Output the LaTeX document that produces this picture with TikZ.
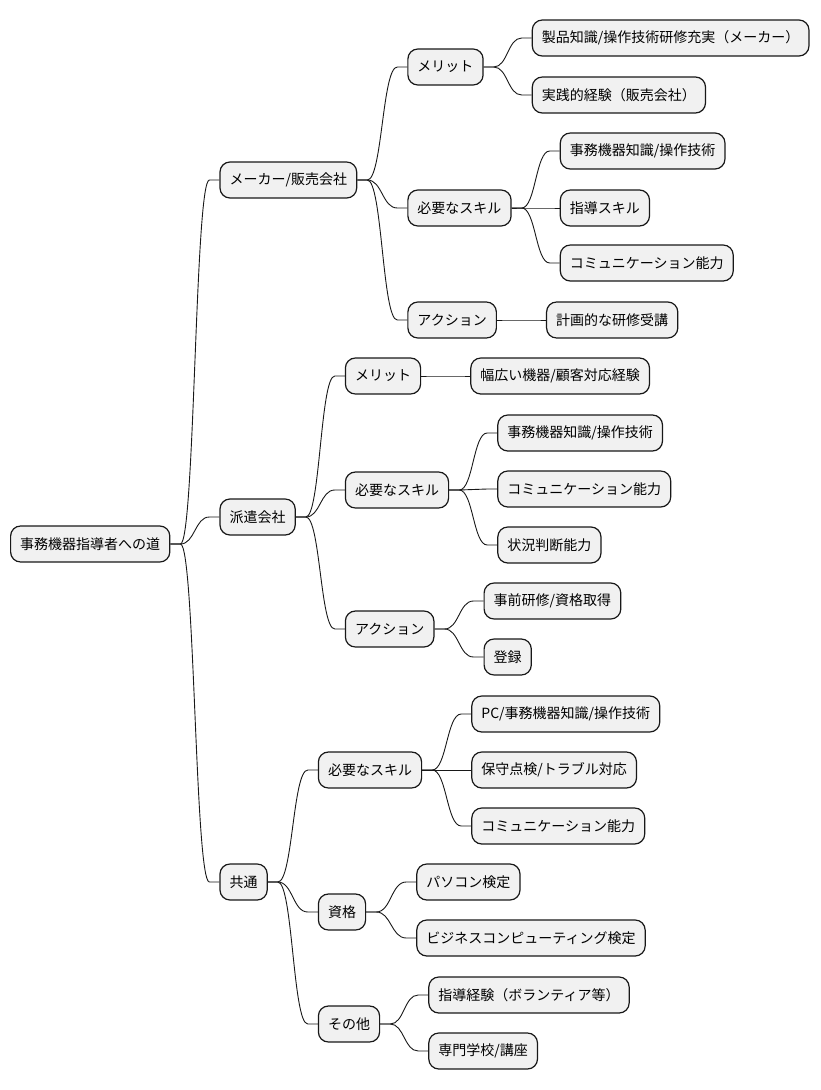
\documentclass[tikz,border=0pt]{standalone}
\usepackage{fontspec}
\setmainfont{Noto Sans CJK JP}
\usetikzlibrary{calc}
\definecolor{boxfill}{HTML}{F1F1F1}
\definecolor{boxline}{HTML}{181818}
\newcommand\mmlink[2]{\draw[link] let \p1=(#1.east), \p2=(#2.west) in (\p1) -- (\x1+10pt,\y1) .. controls (\x1/2+\x2/2,\y1) and (\x1/2+\x2/2,\y2) .. (\x2-10pt,\y2) -- (\p2);}
\begin{document}
\begin{tikzpicture}[x=1pt,y=-1pt,
  box/.style={draw=boxline, line width=1.2pt, fill=boxfill, rounded corners=10pt, anchor=west, minimum height=36pt, inner xsep=9.6pt, inner ysep=0pt, font=\fontsize{14}{16}\selectfont},
  link/.style={draw=boxline, line width=0.9pt}]
\useasboundingbox (0,0) rectangle (820,1090);
% root
\node[box] (root) at (10,544) {事務機器指導者への道};
\path (root.east) ++(49,0) coordinate (c0);
\node[box] (mk) at (c0 |- 0,180) {メーカー/販売会社};
\node[box] (hk) at (c0 |- 0,517) {派遣会社};
\node[box] (kt) at (c0 |- 0,882) {共通};
% maker
\path (mk.east) ++(50,0) coordinate (c1);
\node[box] (mkm) at (c1 |- 0,67) {メリット};
\node[box] (mks) at (c1 |- 0,208) {必要なスキル};
\node[box] (mka) at (c1 |- 0,320) {アクション};
\path (mkm.east) ++(48,0) coordinate (c11);
\node[box] (mkm1) at (c11 |- 0,38) {製品知識/操作技術研修充実（メーカー）};
\node[box] (mkm2) at (c11 |- 0,95) {実践的経験（販売会社）};
\path (mks.east) ++(48,0) coordinate (c12);
\node[box] (mks1) at (c12 |- 0,151) {事務機器知識/操作技術};
\node[box] (mks2) at (c12 |- 0,208) {指導スキル};
\node[box] (mks3) at (c12 |- 0,263) {コミュニケーション能力};
\path (mka.east) ++(49,0) coordinate (c13);
\node[box] (mka1) at (c13 |- 0,320) {計画的な研修受講};
% haken
\path (hk.east) ++(49,0) coordinate (c2);
\node[box] (hkm) at (c2 |- 0,376) {メリット};
\node[box] (hks) at (c2 |- 0,490) {必要なスキル};
\node[box] (hka) at (c2 |- 0,629) {アクション};
\path (hkm.east) ++(49,0) coordinate (c21);
\node[box] (hkm1) at (c21 |- 0,376) {幅広い機器/顧客対応経験};
\path (hks.east) ++(48,0) coordinate (c22);
\node[box] (hks1) at (c22 |- 0,433) {事務機器知識/操作技術};
\node[box] (hks2) at (c22 |- 0,489) {コミュニケーション能力};
\node[box] (hks3) at (c22 |- 0,545) {状況判断能力};
\path (hka.east) ++(49,0) coordinate (c23);
\node[box] (hka1) at (c23 |- 0,601) {事前研修/資格取得};
\node[box] (hka2) at (c23 |- 0,657) {登録};
% kyotsu
\path (kt.east) ++(50,0) coordinate (c3);
\node[box] (kts) at (c3 |- 0,770) {必要なスキル};
\node[box] (ktq) at (c3 |- 0,912) {資格};
\node[box] (kto) at (c3 |- 0,1024) {その他};
\path (kts.east) ++(49,0) coordinate (c31);
\node[box] (kts1) at (c31 |- 0,714) {PC/事務機器知識/操作技術};
\node[box] (kts2) at (c31 |- 0,770) {保守点検/トラブル対応};
\node[box] (kts3) at (c31 |- 0,826) {コミュニケーション能力};
\path (ktq.east) ++(50,0) coordinate (c32);
\node[box] (ktq1) at (c32 |- 0,882) {パソコン検定};
\node[box] (ktq2) at (c32 |- 0,938) {ビジネスコンピューティング検定};
\path (kto.east) ++(48,0) coordinate (c33);
\node[box] (kto1) at (c33 |- 0,995) {指導経験（ボランティア等）};
\node[box] (kto2) at (c33 |- 0,1051) {専門学校/講座};
% links
\mmlink{root}{mk}\mmlink{root}{hk}\mmlink{root}{kt}
\mmlink{mk}{mkm}\mmlink{mk}{mks}\mmlink{mk}{mka}
\mmlink{mkm}{mkm1}\mmlink{mkm}{mkm2}
\mmlink{mks}{mks1}\mmlink{mks}{mks2}\mmlink{mks}{mks3}
\mmlink{mka}{mka1}
\mmlink{hk}{hkm}\mmlink{hk}{hks}\mmlink{hk}{hka}
\mmlink{hkm}{hkm1}
\mmlink{hks}{hks1}\mmlink{hks}{hks2}\mmlink{hks}{hks3}
\mmlink{hka}{hka1}\mmlink{hka}{hka2}
\mmlink{kt}{kts}\mmlink{kt}{ktq}\mmlink{kt}{kto}
\mmlink{kts}{kts1}\mmlink{kts}{kts2}\mmlink{kts}{kts3}
\mmlink{ktq}{ktq1}\mmlink{ktq}{ktq2}
\mmlink{kto}{kto1}\mmlink{kto}{kto2}
\end{tikzpicture}
\end{document}
